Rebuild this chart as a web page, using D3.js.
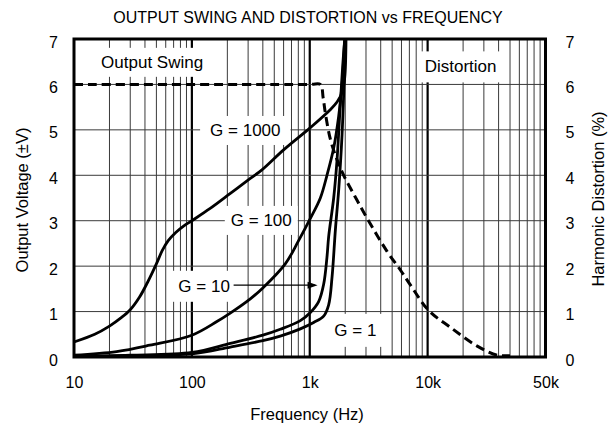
<!DOCTYPE html>
<html>
<head>
<meta charset="utf-8">
<style>
  body { margin: 0; background: #fff; }
  svg { display: block; font-family: "Liberation Sans", Arial, Helvetica, sans-serif; }
  .grid line { stroke: #3a3a3a; stroke-width: 1; }
  .grid line.decade { stroke: #000; stroke-width: 2.2; }
  .axis .domain { display: none; }
  .axis text { font-size: 16px; fill: #000; font-family: "Liberation Sans", Arial, sans-serif; }
  .title { font-size: 16px; }
  .axis-title { font-size: 16.5px; }
  .note { font-size: 17px; }
  .curve { fill: none; stroke: #000; stroke-width: 2.8; stroke-linejoin: round; }
  .dist { fill: none; stroke: #000; stroke-width: 3; stroke-dasharray: 9 5; }
</style>
</head>
<body>
<svg width="615" height="428"></svg>
<script src="https://d3js.org/d3.v7.min.js"></script>
<script>
// values: [frequency Hz, volts or %]
const gain1000 = [[10,0.33],[15,0.5],[20,0.68],[25,0.86],[30,1.04],[36,1.32],[42,1.64],[50,2.05],[56,2.34],[63,2.56],[73,2.74],[85,2.88],[100,3.0],[143,3.27],[212,3.6],[313,3.93],[393,4.12],[600,4.56],[1012,5.05],[1500,5.45],[1710,5.62],[1880,5.82],[1980,6.15],[2030,7]];
const gain100 = [[10,0.04],[23,0.12],[44,0.26],[100,0.48],[163,0.78],[210,0.96],[313,1.28],[400,1.52],[620,2.05],[800,2.55],[1012,3.05],[1230,3.5],[1400,4.0],[1596,4.6],[1760,5.3],[1880,6.0],[1975,7]];
const gain10 = [[10,0.02],[30,0.04],[100,0.1],[212,0.3],[400,0.48],[562,0.61],[832,0.8],[1012,0.98],[1190,1.22],[1312,1.6],[1400,2.2],[1447,2.65],[1596,3.5],[1700,4.3],[1820,5.6],[1940,6.7],[1990,7]];
const gain1 = [[10,0.01],[30,0.03],[100,0.07],[212,0.22],[400,0.36],[562,0.46],[832,0.62],[1079,0.76],[1312,0.9],[1447,1.15],[1547,1.77],[1650,2.8],[1760,3.68],[1880,4.9],[2010,7]];
const distortion = [[10,6],[1000,6],[1230,6],[1300,5.7],[1360,5.35],[1500,4.78],[1700,4.35],[1940,4.0],[2400,3.55],[3070,3.05],[4540,2.32],[5890,1.91],[7160,1.58],[10240,1.02],[15650,0.65],[26360,0.24],[39000,0.04],[50000,0.03]];

const xTicks = [10, 100, 1000, 10000, 100000];
const xTickLabels = ["10", "100", "1k", "10k", "50k"];
const yTicks = [0, 1, 2, 3, 4, 5, 6, 7];

let svg = d3.select("svg");
let margin = { top: 39, right: 69.5, bottom: 71, left: 74 };
let width = 615, height = 428;

let x = d3.scaleLog()
    .domain([10, 100000])
    .range([margin.left, width - margin.right]);

let y = d3.scaleLinear()
    .domain([0, 7])
    .range([height - margin.bottom, margin.top]);

// grid lines
let minor = [];
for (let p = 1; p < 5; p++) {
    for (let k = 1; k < 10; k++) {
        let f = k * Math.pow(10, p);
        if (f > 10 && f < 100000) minor.push(f);
    }
}

let grid = svg.append("g").attr("class", "grid");
grid.selectAll("line.v")
    .data(minor)
    .join("line")
    .attr("class", d => [100, 1000, 10000].includes(d) ? "decade" : "v")
    .attr("x1", d => x(d)).attr("x2", d => x(d))
    .attr("y1", y(7)).attr("y2", y(0));

grid.selectAll("line.h")
    .data([1, 2, 3, 4, 5, 6])
    .join("line")
    .attr("class", "h")
    .attr("x1", x(10)).attr("x2", x(100000))
    .attr("y1", d => y(d)).attr("y2", d => y(d));

// label boxes (white background covers the grid)
let notes = svg.append("g");
function note(txt, f, v, padX, padY) {
    let g = notes.append("g");
    let rect = g.append("rect").style("fill", "#fff");
    let t = g.append("text")
        .attr("class", "note")
        .attr("x", x(f)).attr("y", y(v))
        .attr("text-anchor", "middle")
        .attr("dy", "0.36em")
        .text(txt);
    let b = t.node().getBBox();
    rect.attr("x", b.x - padX).attr("y", b.y - padY)
        .attr("width", b.width + 2 * padX).attr("height", b.height + 2 * padY);
}
note("Output Swing", 46, 6.5, 9, 5);
note("Distortion", 19050, 6.4, 7, 6);
note("G = 1000", 284, 5.0, 10, 5);
note("G = 100", 388, 3.02, 6, 5);
note("G = 10", 127, 1.57, 8, 6);
note("G = 1", 2438, 0.6, 8, 7);

// arrow for G = 10
svg.append("line")
    .attr("x1", x(226)).attr("x2", x(1110))
    .attr("y1", y(1.58)).attr("y2", y(1.58))
    .style("stroke", "#000").style("stroke-width", 1.3);
svg.append("path")
    .attr("d", `M${x(1165)},${y(1.58)} l-10,-3.5 l0,7 z`)
    .style("fill", "#000");

// curves
let line = d3.line()
    .x(d => x(d[0]))
    .y(d => y(d[1]))
    .curve(d3.curveCatmullRom.alpha(0.5));

svg.append("g")
    .selectAll("path")
    .data([gain1000, gain100, gain10, gain1])
    .join("path")
    .attr("class", "curve")
    .attr("d", line);

svg.append("path")
    .datum(distortion)
    .attr("class", "dist")
    .attr("d", line);

// frame
svg.append("rect")
    .attr("x", x(10)).attr("y", y(7))
    .attr("width", x(100000) - x(10))
    .attr("height", y(0) - y(7))
    .style("fill", "none").style("stroke", "#000").style("stroke-width", 3);

// axes
svg.append("g")
    .attr("class", "axis")
    .attr("transform", `translate(0,${y(0)})`)
    .call(d3.axisBottom(x).tickValues(xTicks).tickFormat((d, i) => xTickLabels[i]).tickSize(0).tickPadding(20));

svg.append("g")
    .attr("class", "axis")
    .attr("transform", `translate(${x(10)},0)`)
    .call(d3.axisLeft(y).tickValues(yTicks).tickFormat(d3.format("d")).tickSize(0).tickPadding(16))
    .selectAll("text").attr("dy", "0.5em");

svg.append("g")
    .attr("class", "axis")
    .attr("transform", `translate(${x(100000)},0)`)
    .call(d3.axisRight(y).tickValues(yTicks).tickFormat(d3.format("d")).tickSize(0).tickPadding(20))
    .selectAll("text").attr("dy", "0.5em");

// titles
svg.append("text")
    .attr("class", "title")
    .attr("x", 308).attr("y", 23)
    .attr("text-anchor", "middle")
    .text("OUTPUT SWING AND DISTORTION vs FREQUENCY");

svg.append("text")
    .attr("class", "axis-title")
    .attr("x", 307).attr("y", 420)
    .attr("text-anchor", "middle")
    .text("Frequency (Hz)");

svg.append("text")
    .attr("class", "axis-title")
    .attr("transform", "translate(28,200) rotate(-90)")
    .attr("text-anchor", "middle")
    .text("Output Voltage (±V)");

svg.append("text")
    .attr("class", "axis-title")
    .attr("transform", "translate(604,199) rotate(-90)")
    .attr("text-anchor", "middle")
    .text("Harmonic Distortion (%)");
</script>
</body>
</html>
